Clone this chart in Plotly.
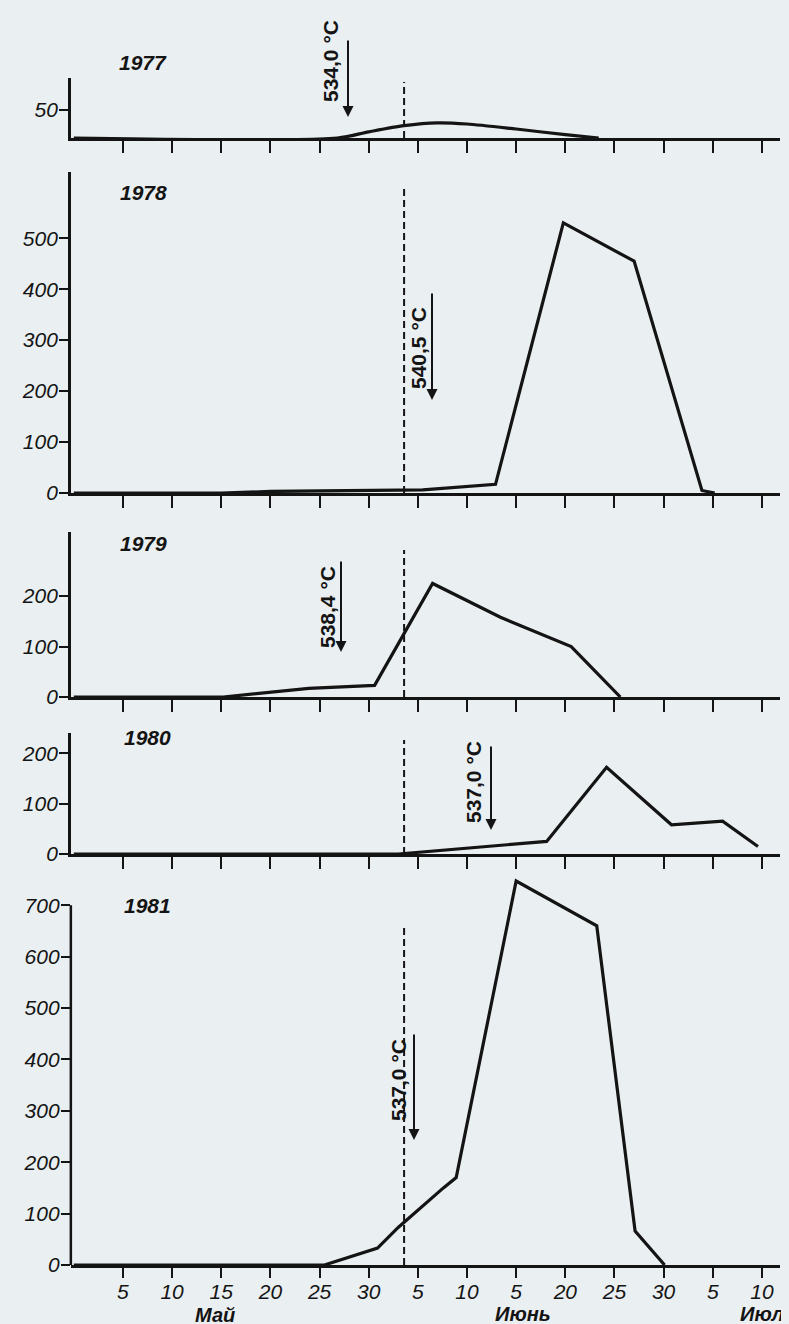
import plotly.graph_objects as go

# ---------------- data ----------------
years = ["1977", "1978", "1979", "1980", "1981"]
temp_labels = ["534,0 °C", "540,5 °C", "538,4 °C", "537,0 °C", "537,0 °C"]

# x in "pentad position" units: May 5 = 5 ... May 30 = 30, Jun 5 = 35 ... Jul 10 = 70
tick_vals = [5, 10, 15, 20, 25, 30, 35, 40, 45, 50, 55, 60, 65, 70]
tick_text = ["5", "10", "15", "20", "25", "30", "5", "10", "5", "20", "25", "30", "5", "10"]
months = ["Май", "Июнь", "Июль"]

x1977 = [0, 26.8, 30, 33.6, 37, 40, 45, 50, 53.4]
y1977 = [0, 0, 11, 22, 27, 25, 16, 6, 0]

x1978 = [0, 15, 20, 35.5, 42.9, 49.8, 57.0, 63.9, 65.2]
y1978 = [0, 0, 3, 6, 17, 530, 455, 5, 0]

x1979 = [0, 15.2, 23.9, 30.6, 36.5, 43.4, 50.6, 55.6]
y1979 = [0, 0, 17, 23, 225, 158, 100, 0]

x1980 = [0, 33.0, 48.1, 54.2, 60.8, 66.0, 69.6]
y1980 = [0, 0, 25, 172, 58, 65, 15]

x1981 = [0, 25.5, 30.9, 33.0, 37.6, 38.9, 45.0, 53.2, 57.1, 60.1]
y1981 = [0, 0, 33, 73, 150, 170, 747, 660, 66, 0]

y_ticks = [[50], [0, 100, 200, 300, 400, 500], [0, 100, 200], [0, 100, 200],
           [0, 100, 200, 300, 400, 500, 600, 700]]
y_tops = [107, 630, 327, 240, 760]
axis_top_value_1981 = 700
threshold_day = 33.6

# ---------------- layout helpers ----------------
PAGE_W, PAGE_H = 789, 1324
OFF = 8  # page body margin
W, H = PAGE_W - OFF, PAGE_H - OFF
INK = "#141414"
BG = "#eaeff1"
FONT = "Liberation Sans, Arial, sans-serif"


def fx(px):
    return (px - OFF) / W


def fy(py):
    return 1 - (py - OFF) / H


# pixel positions (in the page) of each panel: zero line and top of domain
zero_px = [138, 493, 697, 854, 1265]
top_px = [78, 172, 532, 733, 1265 - 760 * 0.514]
dash_top_px = [82, 188, 550, 740, 927]
year_pos = [(143, 62), (143, 193), (143, 543), (147, 738), (147, 905)]
text_pos = [(330, 61), (418, 348), (327, 607), (473, 782), (398, 1080)]
arrow_pos = [(348, 39, 117), (432, 292, 400), (341, 560, 652), (491, 745, 830), (414, 1033, 1140)]

series = [(x1977, y1977), (x1978, y1978), (x1979, y1979), (x1980, y1980), (x1981, y1981)]

fig = go.Figure()
for i, (xs, ys) in enumerate(series):
    sfx = "" if i == 0 else str(i + 1)
    fig.add_trace(go.Scatter(
        x=xs, y=ys, mode="lines",
        line=dict(color=INK, width=3.2, shape="spline" if i == 0 else "linear", smoothing=0.8),
        xaxis="x" + sfx, yaxis="y" + sfx, showlegend=False, hoverinfo="skip"))

layout = dict(
    width=W, height=H, margin=dict(l=0, r=0, t=0, b=0),
    paper_bgcolor=BG, plot_bgcolor=BG, template="none",
    font=dict(family=FONT, color=INK),
    showlegend=False,
)

shapes = []
annotations = []
xdom = [fx(70.85), fx(779.6)]
for i in range(5):
    sfx = "" if i == 0 else str(i + 1)
    layout["xaxis" + sfx] = dict(
        domain=xdom, range=[-0.3, 71.8], anchor="y" + sfx,
        showline=True, linecolor=INK, linewidth=2.5,
        ticks="outside", ticklen=(10 if i == 4 else 12), tickwidth=2, tickcolor=INK,
        tickvals=tick_vals, ticktext=tick_text, showticklabels=(i == 4),
        ticklabelstandoff=-4,
        tickfont=dict(family=FONT, size=21, style="italic", color=INK),
        showgrid=False, zeroline=False, automargin=False, fixedrange=True)
    layout["yaxis" + sfx] = dict(
        domain=[fy(zero_px[i]), fy(top_px[i])], range=[0, y_tops[i]], anchor="x" + sfx,
        showline=(i != 4), linecolor=INK, linewidth=2.5,
        ticks="outside", ticklen=9, tickwidth=2, tickcolor=INK,
        tickvals=y_ticks[i], ticktext=[str(v) for v in y_ticks[i]],
        ticklabelstandoff=-3,
        tickfont=dict(family=FONT, size=21, style="italic", color=INK),
        showgrid=False, zeroline=False, automargin=False, fixedrange=True)

    # dashed threshold line
    shapes.append(dict(type="line", xref="x" + sfx, yref="paper",
                       x0=threshold_day, x1=threshold_day,
                       y0=fy(zero_px[i]), y1=fy(dash_top_px[i]),
                       line=dict(color=INK, width=2, dash="7px,4px")))

    # year label
    annotations.append(dict(text=years[i], x=fx(year_pos[i][0]), y=fy(year_pos[i][1]),
                            xref="paper", yref="paper", showarrow=False,
                            xanchor="center", yanchor="middle",
                            font=dict(family=FONT, size=21, style="italic", weight="bold", color=INK)))
    # temperature sum label
    annotations.append(dict(text=temp_labels[i], x=fx(text_pos[i][0]), y=fy(text_pos[i][1]),
                            xref="paper", yref="paper", showarrow=False, textangle=-90,
                            xanchor="center", yanchor="middle",
                            font=dict(family=FONT, size=21, weight="bold", color=INK)))
    # arrow
    ax_px, tail_py, head_py = arrow_pos[i]
    annotations.append(dict(text="", x=fx(ax_px), y=fy(head_py), xref="paper", yref="paper",
                            showarrow=True, ax=0, ay=-(head_py - tail_py),
                            arrowhead=2, arrowsize=1.1, arrowwidth=2, arrowcolor=INK,
                            standoff=0, startstandoff=0))

# 1981 y-axis line ends at 700
shapes.append(dict(type="line", xref="paper", yref="y5", x0=xdom[0], x1=xdom[0],
                   y0=0, y1=axis_top_value_1981, line=dict(color=INK, width=2.5)))

# month labels
month_pos = [(215, 1315, "center"), (523, 1314, "center"), (738, 1314, "left")]
for m, (mx, my, anc) in zip(months, month_pos):
    annotations.append(dict(text=m, x=fx(mx), y=fy(my), xref="paper", yref="paper",
                            showarrow=False, xanchor=anc, yanchor="middle",
                            font=dict(family=FONT, size=20, style="italic", weight="bold", color=INK)))

layout["shapes"] = shapes
layout["annotations"] = annotations
fig.update_layout(**layout)

fig.write_html("out.html", config={"displayModeBar": False},
               post_script="document.body.style.background='%s';" % BG)
